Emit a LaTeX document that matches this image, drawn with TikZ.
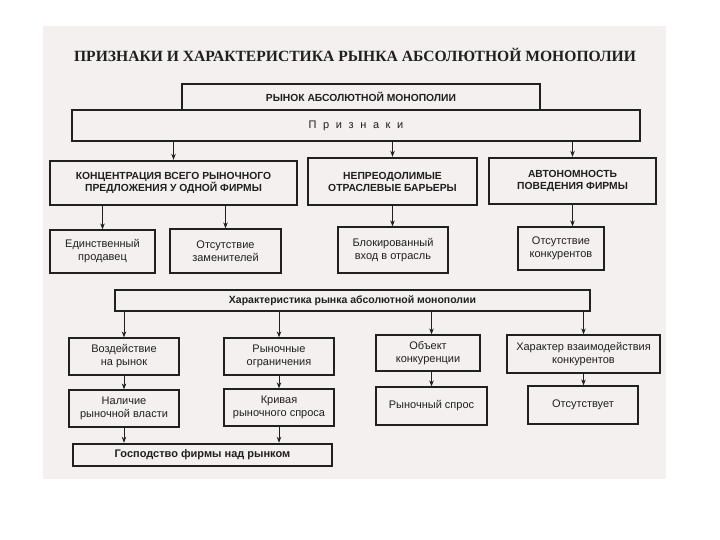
\documentclass[tikz,border=0pt]{standalone}
\usepackage{fontspec}
\setmainfont{Liberation Sans}
\newfontfamily\titlefont{Liberation Serif}
\usetikzlibrary{arrows.meta}
\definecolor{paper}{RGB}{243,240,239}
\definecolor{ink}{RGB}{32,32,32}
\begin{document}
\begin{tikzpicture}[x=1pt,y=-1pt, every node/.style={text=ink},
  headbox/.style={draw=ink,line width=2.4pt,fill=paper,inner sep=0pt,align=center,font=\bfseries\fontsize{10.3}{12}\selectfont},
  leafbox/.style={draw=ink,line width=1.2pt,fill=paper,inner sep=0pt,align=center,font=\fontsize{11}{13}\selectfont},
  arr/.style={draw=ink,line width=0.9pt,-{Stealth[length=6pt,width=4.5pt]}}]
\useasboundingbox (0,0) rectangle (720,540);
\fill[paper] (43,26) rectangle (666,479);
% title
\node[font=\titlefont\bfseries\fontsize{15.6}{19}\selectfont] (title) at (355,55) {ПРИЗНАКИ И ХАРАКТЕРИСТИКА РЫНКА АБСОЛЮТНОЙ МОНОПОЛИИ};
% top of the scheme
\node[leafbox,minimum width=568pt,minimum height=31pt] (prizn) at (356,125.5) {{\spaceskip=0.6em П р и з н а к и}};
\node[headbox,minimum width=358pt,minimum height=26pt] (market) at (361,97) {РЫНОК АБСОЛЮТНОЙ МОНОПОЛИИ};
% signs
\node[headbox,minimum width=247pt,minimum height=44pt] (conc) at (173.5,183) {КОНЦЕНТРАЦИЯ ВСЕГО РЫНОЧНОГО\\ПРЕДЛОЖЕНИЯ У ОДНОЙ ФИРМЫ};
\node[headbox,minimum width=169pt,minimum height=47pt] (barr) at (392.5,181.5) {НЕПРЕОДОЛИМЫЕ\\ОТРАСЛЕВЫЕ БАРЬЕРЫ};
\node[headbox,minimum width=167pt,minimum height=46pt] (auto) at (572.5,181) {АВТОНОМНОСТЬ\\ПОВЕДЕНИЯ ФИРМЫ};
\node[leafbox,minimum width=105pt,minimum height=43pt] (sole) at (102.5,251.5) {Единственный\\продавец};
\node[leafbox,minimum width=111pt,minimum height=44pt] (nosub) at (225.5,251) {Отсутствие\\заменителей};
\node[leafbox,minimum width=110pt,minimum height=46pt] (block) at (393,250) {Блокированный\\вход в отрасль};
\node[leafbox,minimum width=86pt,minimum height=43pt] (norival) at (561,248.5) {Отсутствие\\конкурентов};
% characteristics
\node[headbox,font=\bfseries\fontsize{10.5}{12}\selectfont,minimum width=475pt,minimum height=21pt] (feat) at (352.5,300.5) {Характеристика рынка абсолютной монополии};
\node[leafbox,minimum width=110pt,minimum height=37pt] (impact) at (124,356.5) {Воздействие\\на рынок};
\node[leafbox,minimum width=110pt,minimum height=37pt] (limits) at (279,356.5) {Рыночные\\ограничения};
\node[leafbox,minimum width=104pt,minimum height=36pt] (object) at (428,353) {Объект\\конкуренции};
\node[leafbox,minimum width=153pt,minimum height=38pt] (mode) at (583.5,354) {Характер взаимодействия\\конкурентов};
\node[leafbox,minimum width=110pt,minimum height=37pt] (power) at (124,408.5) {Наличие\\рыночной власти};
\node[leafbox,minimum width=110pt,minimum height=37pt] (curve) at (279,407.5) {Кривая\\рыночного спроса};
\node[leafbox,minimum width=111pt,minimum height=38pt] (demand) at (431.5,406) {Рыночный спрос};
\node[leafbox,minimum width=110pt,minimum height=38pt] (absent) at (583,405) {Отсутствует};
\node[headbox,font=\bfseries\fontsize{11}{13}\selectfont,minimum width=259pt,minimum height=22pt] (rule) at (202.5,455) {Господство фирмы над рынком};
% arrows
\foreach \n in {conc,barr,auto} \draw[arr] (prizn.south -| \n.north) -- (\n.north);
\draw[arr] (conc.south -| sole.north) -- (sole.north);
\draw[arr] (conc.south -| nosub.north) -- (nosub.north);
\draw[arr] (barr.south) -- (barr.south |- block.north);
\draw[arr] (auto.south) -- (auto.south |- norival.north);
\foreach \n in {impact,limits,mode} \draw[arr] (feat.south -| \n.north) -- (\n.north);
\draw[arr] (feat.south -| demand.north) -- (demand.north |- object.north);
\draw[arr] (impact.south) -- (power.north);
\draw[arr] (limits.south) -- (curve.north);
\draw[arr] (object.south -| demand.north) -- (demand.north);
\draw[arr] (mode.south) -- (mode.south |- absent.north);
\draw[arr] (power.south) -- (power.south |- rule.north);
\draw[arr] (curve.south) -- (curve.south |- rule.north);
\end{tikzpicture}
\end{document}
